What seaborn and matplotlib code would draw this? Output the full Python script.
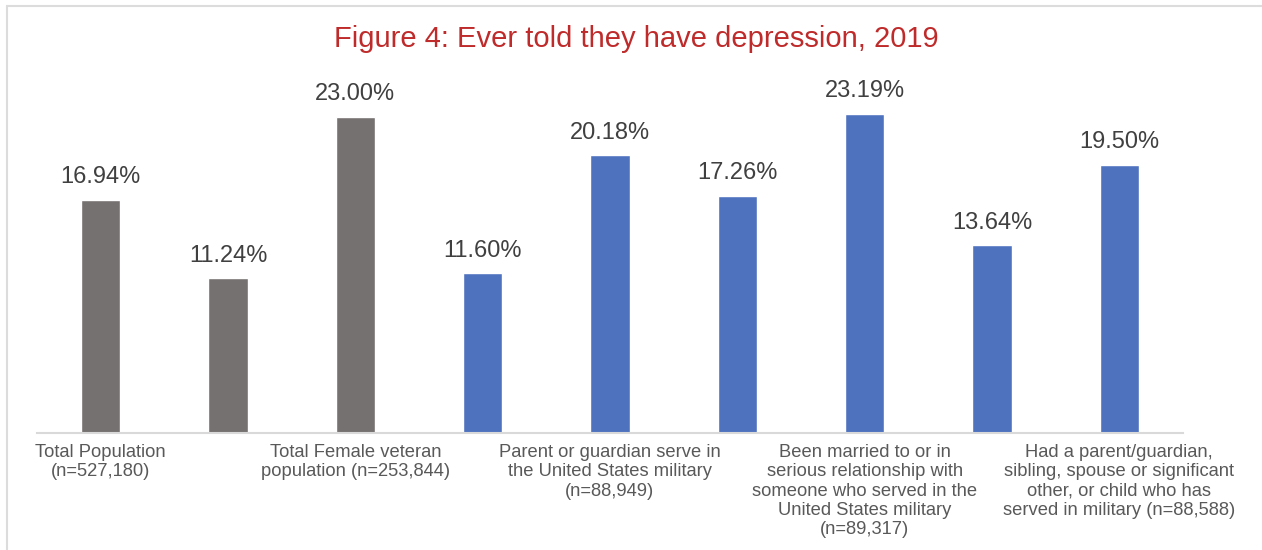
import seaborn as sns
import matplotlib.pyplot as plt
import pandas as pd
from matplotlib.lines import Line2D

# data
values = [16.94, 11.24, 23.00, 11.60, 20.18, 17.26, 23.19, 13.64, 19.50]
groups = ["reference"] * 3 + ["military-connected"] * 6
tick_labels = [
    "Total Population\n(n=527,180)",
    "",
    "Total Female veteran\npopulation (n=253,844)",
    "",
    "Parent or guardian serve in\nthe United States military\n(n=88,949)",
    "",
    "Been married to or in\nserious relationship with\nsomeone who served in the\nUnited States military\n(n=89,317)",
    "",
    "Had a parent/guardian,\nsibling, spouse or significant\nother, or child who has\nserved in military (n=88,588)",
]
title = "Figure 4: Ever told they have depression, 2019"

df = pd.DataFrame({"pos": range(len(values)), "value": values, "group": groups})

sns.set_theme(style="white")
plt.rcParams["font.family"] = ["Liberation Sans", "DejaVu Sans"]

fig = plt.figure(figsize=(12.62, 5.5), dpi=100)
ax = fig.add_axes([37 / 1262, 117 / 550, 1146 / 1262, 344 / 550])

pal = {"reference": "#767171", "military-connected": "#4F72BF"}
sns.barplot(data=df, x="pos", y="value", hue="group", palette=pal, dodge=False,
            width=0.31, legend=False, ax=ax, saturation=1)

for c in ax.containers:
    ax.bar_label(c, labels=[f"{v:.2f}%" for v in c.datavalues], padding=8.5,
                 fontsize=17, color="#404040")

ax.set_xlim(-0.5, 8.5)
ax.set_ylim(0, 25)
ax.set_xlabel("")
ax.set_ylabel("")
ax.set_yticks([])
ax.set_xticks(range(len(values)))
ax.set_xticklabels(tick_labels, fontsize=13.2, color="#595959")
for lbl in ax.get_xticklabels():
    lbl.set_linespacing(1.18)
ax.tick_params(axis="x", length=0, pad=8)
for s in ["top", "left", "right"]:
    ax.spines[s].set_visible(False)
ax.spines["bottom"].set_color("#D9D9D9")
ax.spines["bottom"].set_linewidth(1.5)

fig.text(636 / 1262, 1 - 47 / 550, title, ha="center", va="baseline",
         fontsize=21, color="#BF2B2B")

# light frame along the top and left edge
fig.add_artist(Line2D([7 / 1262, 1], [1 - 6 / 550, 1 - 6 / 550], transform=fig.transFigure,
                      color="#DCDCDC", lw=1.5))
fig.add_artist(Line2D([7 / 1262, 7 / 1262], [0, 1 - 6 / 550], transform=fig.transFigure,
                      color="#DCDCDC", lw=1.5))

fig.savefig("out.png", dpi=100)
